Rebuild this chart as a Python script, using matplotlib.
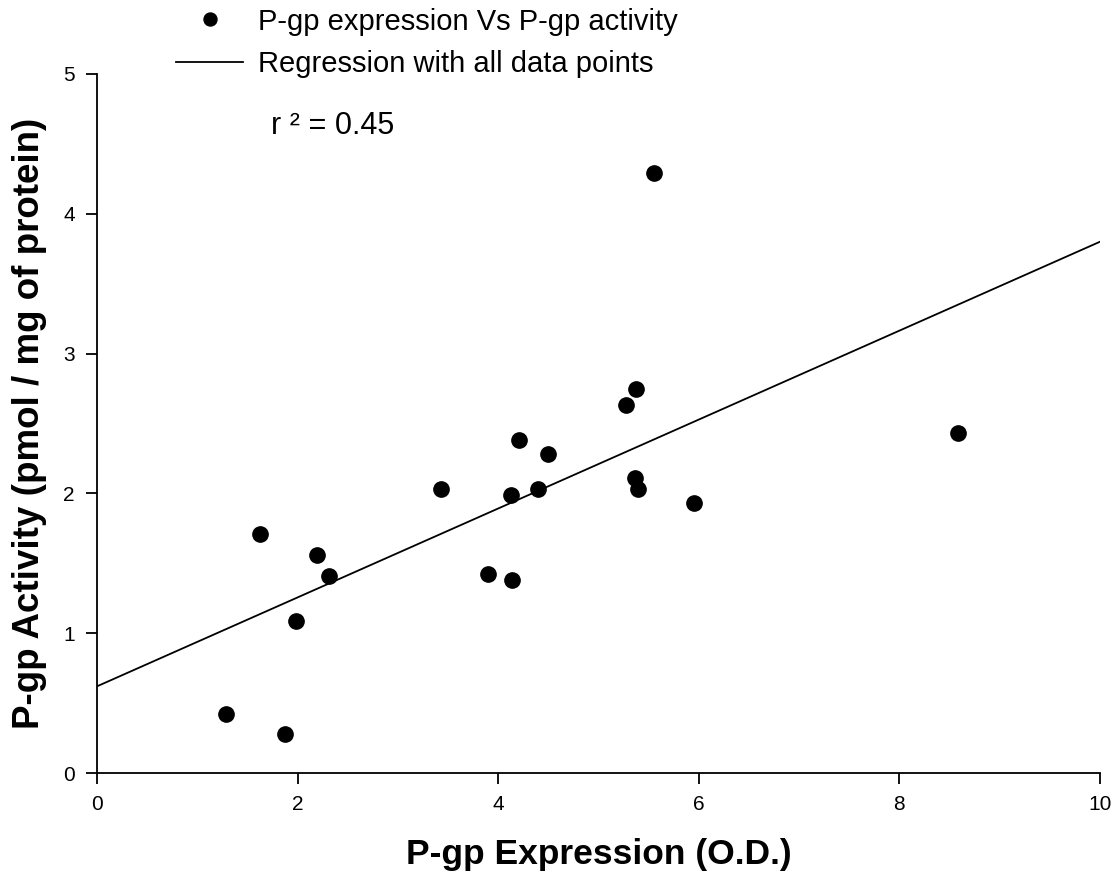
"""P-gp expression vs P-gp activity scatter with regression line."""

import numpy as np
import matplotlib.pyplot as plt

plt.rcParams["font.family"] = ["Liberation Sans", "DejaVu Sans"]

# Data
expression = [1.29, 1.87, 1.63, 1.98, 2.19, 2.31, 3.43, 3.90, 4.14, 4.13,
              4.21, 4.40, 4.50, 5.27, 5.37, 5.36, 5.39, 5.55, 5.95, 8.58]
activity = [0.42, 0.28, 1.71, 1.09, 1.56, 1.41, 2.03, 1.42, 1.38, 1.99,
            2.38, 2.03, 2.28, 2.63, 2.75, 2.11, 2.03, 4.29, 1.93, 2.43]

# Regression line as drawn in the figure
reg_intercept = 0.62
reg_slope = 0.318
reg_x = [0, 10]
r_squared = 0.45

x_ticks = [0, 2, 4, 6, 8, 10]
y_ticks = [0, 1, 2, 3, 4, 5]

fig = plt.figure(figsize=(11.19, 8.88), dpi=100)
ax = fig.add_axes([0.0867, 0.1295, 0.8963, 0.7872])

sc, = ax.plot(expression, activity, "o", color="black", markersize=11,
              linestyle="none", label="P-gp expression Vs P-gp activity")
reg_y = reg_intercept + reg_slope * np.array(reg_x)
ln, = ax.plot(reg_x, reg_y, color="black", linewidth=1.3,
              label="Regression with all data points")

ax.set_xlim(0, 10)
ax.set_ylim(0, 5)
ax.set_xticks(x_ticks)
ax.set_yticks(y_ticks)
ax.spines["top"].set_visible(False)
ax.spines["right"].set_visible(False)
ax.spines["left"].set_linewidth(1.3)
ax.spines["bottom"].set_linewidth(1.3)
ax.tick_params(direction="out", length=8, width=1.3, labelsize=15, pad=8)

ax.set_xlabel("P-gp Expression (O.D.)", fontsize=25.5, fontweight="bold")
ax.xaxis.set_label_coords(0.5, -0.093)
ax.set_ylabel("P-gp Activity (pmol / mg of protein)", fontsize=26.5,
              fontweight="bold")
ax.yaxis.set_label_coords(-0.05, 0.5)

ax.text(0.1735, 0.926, f"r ² = {r_squared:.2f}", transform=ax.transAxes,
        fontsize=22, ha="left", va="center")

fig.legend(handles=[sc, ln], loc="upper left", bbox_to_anchor=(0.134, 1.021),
           frameon=False, fontsize=21, handlelength=2.3, handletextpad=0.5,
           labelspacing=0.5, markerscale=0.85)

fig.savefig("out.png", dpi=100)
